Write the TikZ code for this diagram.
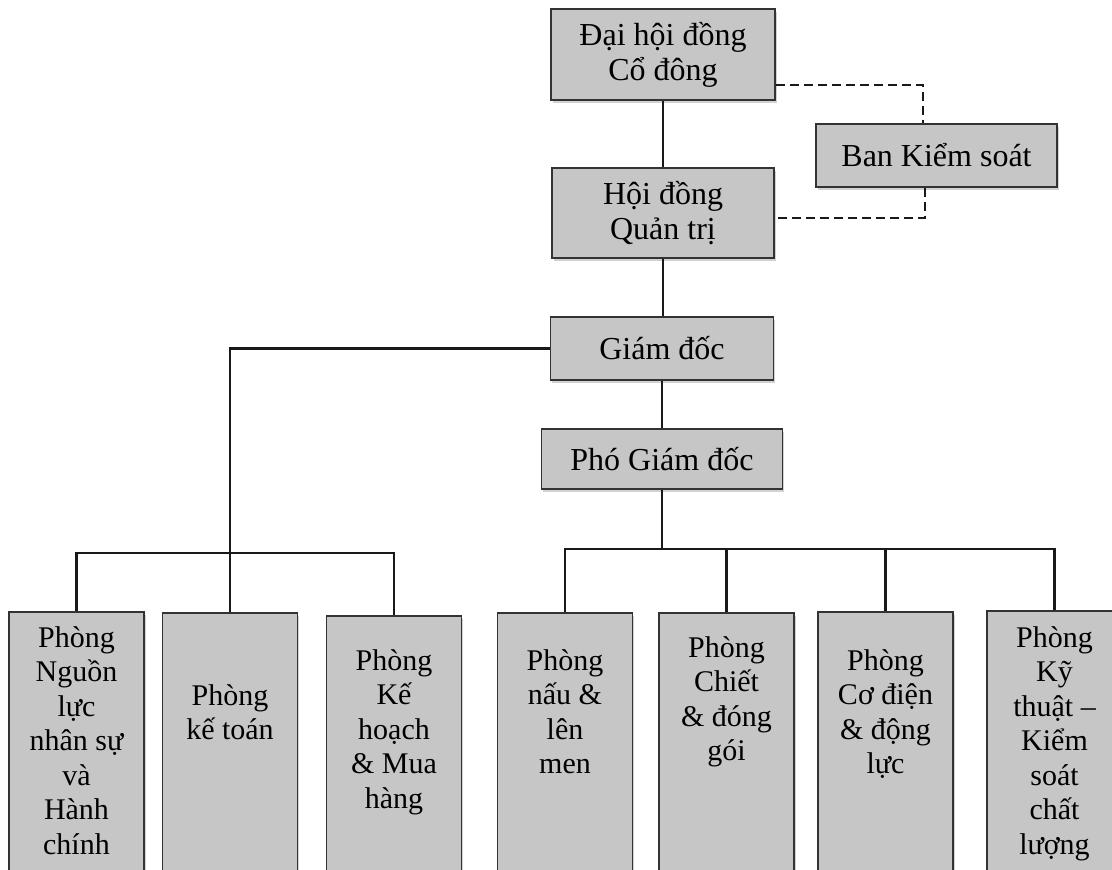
\documentclass[tikz,border=0pt]{standalone}
\usepackage{fontspec}
\setmainfont{Liberation Serif}
\usetikzlibrary{shadows}
\definecolor{boxfill}{HTML}{C6C6C6}
\definecolor{boxline}{HTML}{333333}
\begin{document}
\begin{tikzpicture}[x=1pt,y=-1pt,
  box/.style={draw=boxline, line width=1.8pt, fill=boxfill,
    drop shadow={shadow xshift=1.5pt, shadow yshift=-3pt, opacity=0.35},
    inner sep=0pt, align=center},
  topbox/.style={box, font=\fontsize{32}{35}\selectfont},
  dept/.style={box, anchor=north, minimum width=135pt, minimum height=320pt},
  lbl/.style={anchor=north, align=center, inner sep=0pt, font=\fontsize{30}{34.5}\selectfont},
  link/.style={line width=2.4pt, draw=black!90},
  dlink/.style={line width=2.8pt, dash pattern=on 9pt off 5pt, draw=black!90}]

\useasboundingbox (0,0) rectangle (1112,870);
\fill[white] (0,0) rectangle (1112,870);
\clip (0,0) rectangle (1112,870);

% upper boxes
\node[topbox, minimum width=224pt, minimum height=91pt] (dh) at (663,54.5) {Đại hội đồng\\Cổ đông};
\node[topbox, minimum width=222pt, minimum height=90pt] (hd) at (663,213) {Hội đồng\\Quản trị};
\node[topbox, minimum width=241pt, minimum height=63pt] (bks) at (936.5,155.5) {Ban Kiểm soát};
\node[topbox, minimum width=223pt, minimum height=63pt] (gd) at (662,348.5) {Giám đốc};
\node[topbox, minimum width=241pt, minimum height=60pt] (pgd) at (662,459) {Phó Giám đốc};

% department boxes
\node[dept] (b1) at (76.5,611) {};
\node[dept] (b2) at (230,612) {};
\node[dept] (b3) at (394,615) {};
\node[dept] (b4) at (565,612) {};
\node[dept] (b5) at (726.5,612) {};
\node[dept] (b6) at (885.5,611) {};
\node[dept] (b7) at (1054.5,610) {};

% department labels
\node[lbl] (t1) at (76.5,647-24.15) {\strut Phòng\\Nguồn\\lực\\nhân sự\\và\\Hành\\chính};
\node[lbl] (t2) at (230,705-24.15) {\strut Phòng\\kế toán};
\node[lbl] (t3) at (394,670-24.15) {\strut Phòng\\Kế\\hoạch\\\& Mua\\hàng};
\node[lbl] (t4) at (565,670-24.15) {\strut Phòng\\nấu \&\\lên\\men};
\node[lbl] (t5) at (726.5,657-24.15) {\strut Phòng\\Chiết\\\& đóng\\gói};
\node[lbl] (t6) at (885.5,670-24.15) {\strut Phòng\\Cơ điện\\\& động\\lực};
\node[lbl] (t7) at (1054.5,647-24.15) {\strut Phòng\\Kỹ\\thuật –\\Kiểm\\soát\\chất\\lượng};

% connectors
\coordinate (k1) at (923,85);
\coordinate (k2) at (925,218);
\coordinate (lh) at (0,553);
\coordinate (rh) at (0,549);

\draw[link] (dh.south) -- (hd.north);
\draw[dlink] (dh.east|-k1) -- (k1) -- (k1|-bks.north);
\draw[dlink] (bks.south-|k2) -- (k2) -- (hd.east|-k2);
\draw[link] (hd.south) -- (hd.south|-gd.north);
\draw[link] (gd.south) -- (pgd.north);
\draw[link] (gd.west) -| (b2.north);
\draw[link] (b1.north) -- (b1.north|-lh) -- (b3.north|-lh) -- (b3.north);
\draw[link] (pgd.south) -- (pgd.south|-rh);
\draw[link] (b4.north) -- (b4.north|-rh) -- (b7.north|-rh) -- (b7.north);
\draw[link] (b5.north) -- (b5.north|-rh);
\draw[link] (b6.north) -- (b6.north|-rh);
\end{tikzpicture}
\end{document}
